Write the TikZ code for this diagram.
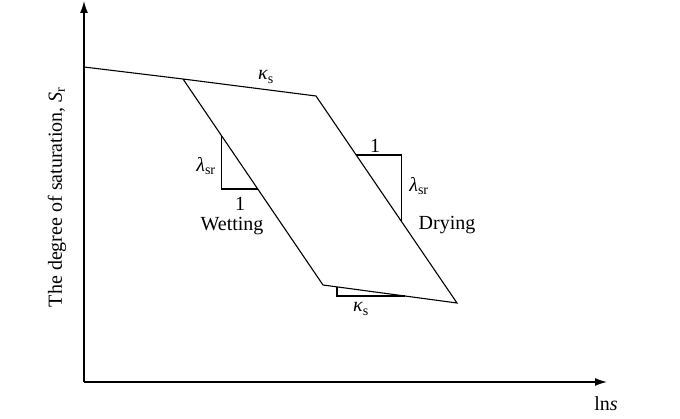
\documentclass[tikz,border=0pt]{standalone}
\usepackage{fontspec}
\setmainfont{Liberation Serif}
\usetikzlibrary{arrows.meta,calc}
\begin{document}
\begin{tikzpicture}[x=1pt,y=-1pt,
  curve/.style={line width=1.1pt,line join=miter},
  axis/.style={line width=1.4pt,-{Latex[length=12pt,width=8pt]}},
  lbl/.style={inner sep=0pt,font=\fontsize{20}{23}\selectfont}]
\useasboundingbox (0,0) rectangle (680,419);
% axes
\coordinate (O) at (84,382);
\coordinate (Ytop) at (84,1);
\coordinate (Xend) at (607,382);
\draw[axis] (O) -- (Ytop);
\draw[axis] (O) -- (Xend);
% curve points
\coordinate (A) at (84,67);
\coordinate (B) at (183,79);
\coordinate (C) at (316,96);
\coordinate (D) at (323,285);
\coordinate (E) at (457,303);
\draw[curve] (A) -- (B) -- (C) -- (E) -- (D) -- (B);
% slope triangles
\coordinate (L1) at ($(B)!0.2767!(D)$);
\coordinate (L2) at ($(B)!0.534!(D)$);
\draw[curve] (L1) |- (L2);
\coordinate (R1) at ($(C)!0.285!(E)$);
\coordinate (R2) at ($(C)!0.6087!(E)$);
\draw[curve] (R1) -| (R2);
\coordinate (K1) at ($(D)!0.1045!(E)$);
\coordinate (K2) at ($(D)!0.611!(E)$);
\draw[curve] (K1) |- (K2);
% labels
\node[lbl] (ktop) at (266,77) {\textit{κ}\textsubscript{s}};
\node[lbl] (lamL) at (206,166) {\textit{λ}\textsubscript{sr}};
\node[lbl] (oneL) at (240,204) {1};
\node[lbl] (wet) at (232,226) {Wetting};
\node[lbl] (oneR) at (375,146) {1};
\node[lbl] (lamR) at (419,186) {\textit{λ}\textsubscript{sr}};
\node[lbl] (dry) at (447,225) {Drying};
\node[lbl] (kbot) at (361,309) {\textit{κ}\textsubscript{s}};
\node[lbl] (lns) at (606,404) {ln\textit{s}};
\node[lbl,rotate=90] (ylab) at (57,197) {The degree of saturation, \textit{S}\textsubscript{r}};
\end{tikzpicture}
\end{document}
